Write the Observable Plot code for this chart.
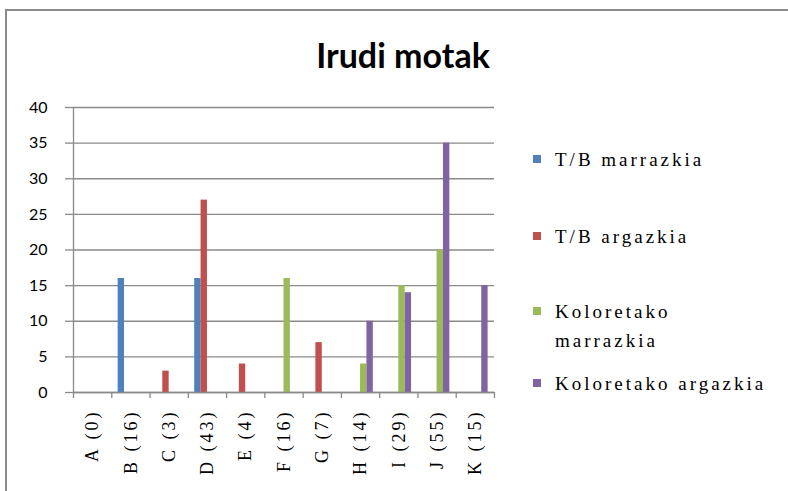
<!DOCTYPE html>
<html><head><meta charset="utf-8">
<script src="https://cdn.jsdelivr.net/npm/d3@7"></script>
<script src="https://cdn.jsdelivr.net/npm/@observablehq/plot@0.6"></script>
<style>
body{margin:0;background:#fff;width:788px;height:491px;overflow:hidden;position:relative;font-family:"Liberation Serif","Times New Roman","DejaVu Serif",serif;}
#frame{position:absolute;left:5px;top:9px;width:800px;height:500px;border-left:2px solid #8a8a8a;border-top:2px solid #8a8a8a;box-sizing:border-box;}
#title{position:absolute;left:0;top:35px;width:806px;text-align:center;font-family:Lato,sans-serif;font-weight:bold;font-size:34px;line-height:40px;color:#000;}
#chart{position:absolute;left:0;top:90px;}
.leg{position:absolute;left:533px;width:245px;font-family:"Liberation Serif","Times New Roman","DejaVu Serif",serif;font-size:19px;letter-spacing:3px;line-height:29px;color:#000;}
.leg .sw{position:absolute;left:0;top:10px;width:8px;height:8px;}
.leg .tx{position:absolute;left:22px;top:0;width:222px;}
</style></head>
<body>
<div id="frame"></div>
<div id="title"></div>
<div id="chart"></div>
<div id="legend"></div>
<script>
const title = "Irudi motak";
const categories = ["A (0)","B (16)","C (3)","D (43)","E (4)","F (16)","G (7)","H (14)","I (29)","J (55)","K (15)"];
const seriesNames = ["T/B marrazkia","T/B argazkia","Koloretako marrazkia","Koloretako argazkia"];
const seriesColors = ["#4F81BD","#C0504D","#9BBB59","#8064A2"];
const tbMarrazkia  = [0,16,0,16,0,0,0,0,0,0,0];
const tbArgazkia   = [0,0,3,27,4,0,7,0,0,0,0];
const kolMarrazkia = [0,0,0,0,0,16,0,4,15,20,0];
const kolArgazkia  = [0,0,0,0,0,0,0,10,14,35,15];
const yTicks = [0,5,10,15,20,25,30,35,40];

document.getElementById("title").textContent = title;

const seriesValues = [tbMarrazkia, tbArgazkia, kolMarrazkia, kolArgazkia];
const nS = seriesValues.length;
const gap = 1/3; // gap fraction of each category band
const bw = (1 - gap) / nS;
const rows = [];
seriesValues.forEach((vals, s) => vals.forEach((v, i) => {
  if (v > 0) rows.push({i, s, value: v, x1: i + gap/2 + s*bw, x2: i + gap/2 + (s+1)*bw, color: seriesColors[s]});
}));

const serif = "'Liberation Serif', 'Times New Roman', 'DejaVu Serif', serif";
const plot = Plot.plot({
  width: 520, height: 400,
  marginTop: 17, marginBottom: 98, marginLeft: 73, marginRight: 26,
  x: {type: "linear", domain: [0, categories.length]},
  y: {domain: [0, 40]},
  style: {background: "transparent"},
  marks: [
    Plot.gridY(yTicks, {stroke: "#8a8a8a", strokeOpacity: 1, strokeWidth: 1.3}),
    Plot.axisY(yTicks, {tickSize: 8, tickPadding: 18, fontSize: 16, fontFamily: "Lato, sans-serif", stroke: "#8a8a8a", strokeWidth: 1.3, label: null, color: "#000"}),
    Plot.ruleX([0], {y1: 0, y2: 40, stroke: "#8a8a8a", strokeWidth: 1.3}),
    Plot.rectY(rows, {x1: "x1", x2: "x2", y: "value", fill: "color", insetLeft: 0, insetRight: 0}),
    Plot.ruleY([0], {stroke: "#8a8a8a", strokeWidth: 1.3}),
    Plot.axisX(d3.range(categories.length + 1), {tickSize: 6, tickFormat: () => "", stroke: "#8a8a8a", strokeWidth: 1.3, label: null}),
    Plot.axisX(categories.map((c, i) => i + 0.5), {tickSize: 0, tickPadding: 17, tickRotate: -90, tickFormat: d => categories[Math.floor(d)], fontSize: 18, fontFamily: serif, label: null, color: "#000"})
  ]
});
document.getElementById("chart").appendChild(plot);
d3.select(plot).selectAll('g[aria-label="x-axis tick label"] text').style("letter-spacing", "3px").style("font-family", serif);

const legTops = [145, 222, 297, 369];
const legend = document.getElementById("legend");
seriesNames.forEach((n, s) => {
  const d = document.createElement("div");
  d.className = "leg";
  d.style.top = legTops[s] + "px";
  d.innerHTML = `<div class="sw" style="background:${seriesColors[s]}"></div><div class="tx"></div>`;
  d.querySelector(".tx").textContent = n;
  legend.appendChild(d);
});
</script>
</body></html>
